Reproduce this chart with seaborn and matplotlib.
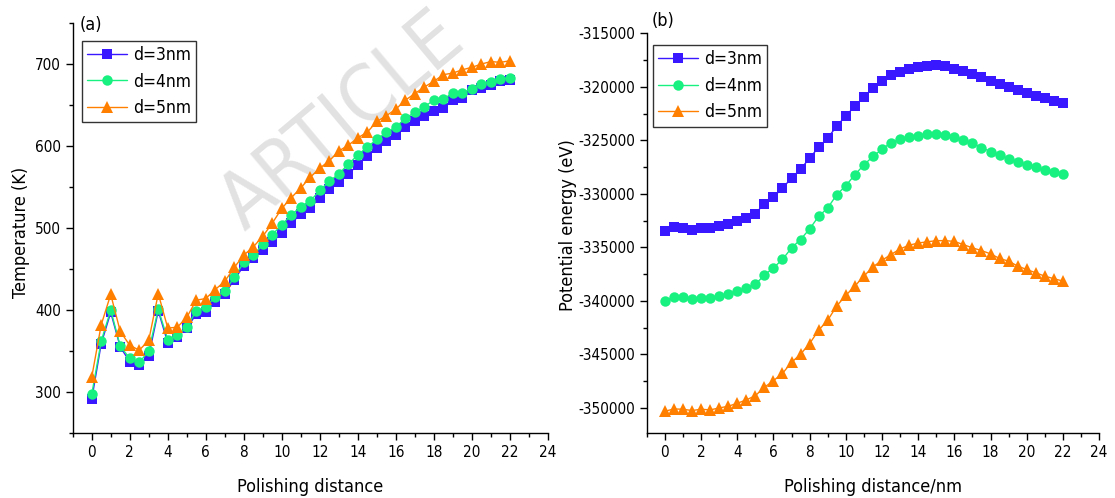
import numpy as np
import pandas as pd
import matplotlib
matplotlib.use("Agg")
import matplotlib.pyplot as plt
from matplotlib.ticker import MultipleLocator
import seaborn as sns

# ---------------- data ----------------
distance = [0, 0.5, 1, 1.5, 2, 2.5, 3, 3.5, 4, 4.5, 5, 5.5, 6, 6.5, 7, 7.5, 8, 8.5,
            9, 9.5, 10, 10.5, 11, 11.5, 12, 12.5, 13, 13.5, 14, 14.5, 15, 15.5, 16,
            16.5, 17, 17.5, 18, 18.5, 19, 19.5, 20, 20.5, 21, 21.5, 22]

series_labels = ["d=3nm", "d=4nm", "d=5nm"]

temp_d3 = [291, 359, 397, 355, 337, 333, 344, 399, 360, 367, 378, 395, 398, 410, 420,
           437, 454, 463, 473, 483, 494, 506, 517, 525, 537, 547, 556, 566, 577, 588,
           597, 606, 613, 623, 630, 637, 643, 646, 656, 659, 668, 671, 675, 679, 680]
temp_d4 = [297, 362, 400, 356, 341, 336, 350, 401, 364, 369, 379, 399, 404, 416, 423,
           440, 458, 467, 480, 492, 504, 516, 526, 533, 546, 557, 566, 578, 589, 599,
           608, 617, 623, 634, 641, 648, 656, 657, 665, 665, 670, 676, 678, 682, 683]
temp_d5 = [318, 382, 419, 374, 357, 351, 363, 420, 378, 379, 391, 412, 414, 425, 435,
           452, 467, 477, 490, 506, 524, 537, 549, 562, 573, 582, 594, 601, 610, 617,
           630, 637, 645, 656, 664, 672, 679, 687, 689, 693, 696, 700, 703, 702, 704]

pe_d3 = [-333500, -333120, -333190, -333400, -333190, -333190, -333030, -332780,
         -332570, -332290, -331850, -330920, -330300, -329460, -328530, -327690,
         -326670, -325640, -324800, -323660, -322730, -321800, -320930, -320120,
         -319440, -318940, -318600, -318320, -318130, -318040, -317980, -318070,
         -318290, -318510, -318820, -319070, -319440, -319690, -320060, -320310,
         -320560, -320830, -321080, -321330, -321550]
pe_d4 = [-340010, -339610, -339670, -339860, -339700, -339700, -339550, -339330,
         -339080, -338770, -338460, -337590, -336910, -336130, -335050, -334270,
         -333280, -332100, -331320, -330080, -329240, -328220, -327290, -326510,
         -325830, -325220, -324900, -324680, -324590, -324430, -324430, -324530,
         -324710, -324960, -325270, -325680, -326050, -326360, -326730, -326980,
         -327290, -327510, -327760, -327970, -328190]
pe_d5 = [-350320, -350100, -350130, -350250, -350130, -350190, -350010, -349850,
         -349570, -349260, -348860, -348080, -347460, -346780, -345750, -344980,
         -343990, -342740, -341810, -340480, -339490, -338620, -337690, -336830,
         -336210, -335670, -335150, -334800, -334600, -334480, -334380, -334370,
         -334450, -334740, -335050, -335300, -335610, -336040, -336290, -336750,
         -337070, -337380, -337690, -337930, -338150]

# ---------------- style ----------------
sns.set_style("ticks")
plt.rcParams['font.family'] = ['DejaVu Sans']
plt.rcParams['font.stretch'] = 'condensed'
plt.rcParams['axes.unicode_minus'] = False
plt.rcParams['axes.linewidth'] = 1.0
plt.rcParams['axes.edgecolor'] = 'black'
plt.rcParams['xtick.color'] = 'black'
plt.rcParams['ytick.color'] = 'black'
plt.rcParams['text.color'] = 'black'
plt.rcParams['axes.labelcolor'] = 'black'

colors = ["#3a18ff", "#18f080", "#ff8000"]
markers = ["s", "o", "^"]
msizes = [6.6, 7.5, 8]

fig = plt.figure(figsize=(11.15, 4.98), dpi=100)
ax1 = fig.add_axes([0.0652, 0.1305, 0.4263, 0.8233])
ax2 = fig.add_axes([0.5801, 0.1305, 0.4056, 0.8026])
for ax in (ax1, ax2):
    ax.patch.set_alpha(0.0)

# watermark
fig.text(342 / 1115, 1 - 122 / 498, "ARTICLE", rotation=40, fontsize=57,
         color="#e2e2e2", ha="center", va="center",
         fontweight="light", zorder=-5)


def draw(ax, ys):
    for ys_i, lab, c, m, ms in zip(ys, series_labels, colors, markers, msizes):
        df = pd.DataFrame({"x": distance, "y": ys_i})
        sns.lineplot(data=df, x="x", y="y", ax=ax, color=c, marker=m,
                     markersize=ms, markeredgewidth=0, linewidth=1.0,
                     label=lab, legend=False)


draw(ax1, [temp_d3, temp_d4, temp_d5])
draw(ax2, [pe_d3, pe_d4, pe_d5])

anchors = {ax1: (0.019, 0.957), ax2: (0.013, 0.971)}
for ax in (ax1, ax2):
    sns.despine(ax=ax)
    ax.set_xlim(-1, 24)
    ax.xaxis.set_major_locator(MultipleLocator(2))
    ax.xaxis.set_minor_locator(MultipleLocator(1))
    ax.tick_params(which="major", length=5, width=1, labelsize=11, direction="out")
    ax.tick_params(which="minor", length=3, width=1, direction="out")
    handles = ax.get_lines()[:3]
    leg = ax.legend(handles, series_labels, loc="upper left", frameon=True,
                    fancybox=False, edgecolor="black", fontsize=12.5,
                    handlelength=2.3, handletextpad=0.35, borderpad=0.3,
                    labelspacing=0.5, borderaxespad=0,
                    bbox_to_anchor=anchors[ax])
    leg.get_frame().set_linewidth(1.0)

ax1.set_ylim(250, 750)
ax1.set_yticks([300, 400, 500, 600, 700])
ax1.yaxis.set_minor_locator(MultipleLocator(50))
ax1.set_xlabel("Polishing distance", fontsize=13)
ax1.set_ylabel("Temperature (K)", fontsize=13)
ax1.xaxis.set_label_coords(0.5, -0.11)
ax1.yaxis.set_label_coords(-0.09, 0.49)

ax2.set_ylim(-352350, -315000)
ax2.yaxis.set_major_locator(MultipleLocator(5000))
ax2.yaxis.set_minor_locator(MultipleLocator(2500))
ax2.set_xlabel("Polishing distance/nm", fontsize=13)
ax2.set_ylabel("Potential energy (eV)", fontsize=13)
ax2.xaxis.set_label_coords(0.5, -0.113)
ax2.yaxis.set_label_coords(-0.154, 0.52)

fig.text(80 / 1115, 1 - 25 / 498, "(a)", fontsize=13, ha="left", va="center")
fig.text(652 / 1115, 1 - 21 / 498, "(b)", fontsize=13, ha="left", va="center")

fig.savefig("out.png", dpi=100)
